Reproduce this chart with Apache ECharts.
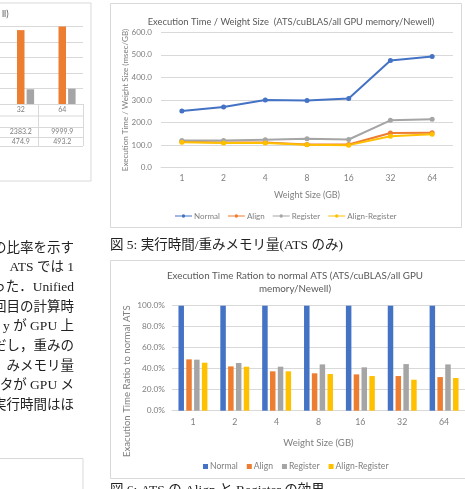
<!DOCTYPE html>
<html>
<head>
<meta charset="utf-8">
<script src="https://cdn.jsdelivr.net/npm/echarts@6/dist/echarts.min.js"></script>
<style>
html, body { margin: 0; padding: 0; background: #fff; }
#main { width: 465px; height: 489px; }
</style>
</head>
<body>
<div id="main"></div>
<script>
var dom = document.getElementById('main');
var myChart = echarts.init(dom);
var option;

// --- data ---
var weightSizes = ['1', '2', '4', '8', '16', '32', '64'];
var seriesNames = ['Normal', 'Align', 'Register', 'Align-Register'];
var seriesColors = ['#4472C4', '#ED7D31', '#A5A5A5', '#FFC000'];

// 図5: execution time / weight size (msec/GB)
var timeNormal = [251, 269, 300, 298, 307, 474.9, 493.2];
var timeAlign = [115, 112, 112, 103, 103, 154, 155];
var timeRegister = [121, 120, 124, 128, 125, 210, 215];
var timeAlignRegister = [113, 110, 110, 102, 100, 139, 148];

// 図6: ratio to normal ATS
var ratioNormal = [1, 1, 1, 1, 1, 1, 1];
var ratioAlign = [0.489, 0.422, 0.375, 0.356, 0.346, 0.33, 0.32];
var ratioRegister = [0.486, 0.454, 0.419, 0.441, 0.413, 0.444, 0.441];
var ratioAlignRegister = [0.457, 0.419, 0.375, 0.349, 0.33, 0.295, 0.311];

// previous figure, cut off at the left edge
var prevSizes = ['32', '64'];
var prevFirst = [null, null];
var prevSecond = [2383.2, 9999.9];
var prevThird = [474.9, 493.2];

var bodyLines = ['の比率を示す', 'ATS では 1', 'った．Unified', '回目の計算時',
    'y が GPU 上', 'だし，重みの', 'みメモリ量', 'タが GPU メ', '実行時間はほ'];
var caption5 = '図 5: 実行時間/重みメモリ量(ATS のみ)';
var caption6 = '図 6: ATS の Align と Register の効果';

var chartFont = 'Lato, "Open Sans", sans-serif';
var paperFont = '"Liberation Serif", "Noto Sans CJK JP", serif';
var labelColor = '#7f7f7f';
var gridColor = '#d9d9d9';

function lineSeries(name, data, color) {
    return {
        name: name, type: 'line', xAxisIndex: 0, yAxisIndex: 0,
        data: data, symbol: 'circle', symbolSize: 5,
        itemStyle: { color: color },
        lineStyle: { color: color, width: 2 }
    };
}

function barSeries(name, data, color) {
    return {
        name: name, type: 'bar', xAxisIndex: 1, yAxisIndex: 1,
        data: data, barWidth: 5.5, barGap: '42%',
        itemStyle: { color: color }
    };
}

var graphics = [
    { type: 'rect', shape: { x: -2, y: 3, width: 93, height: 178 }, style: { fill: null, stroke: gridColor, lineWidth: 1 } },
    { type: 'rect', shape: { x: 110.5, y: 3.5, width: 351, height: 224 }, style: { fill: null, stroke: gridColor, lineWidth: 1 } },
    { type: 'rect', shape: { x: 110.5, y: 260.5, width: 362, height: 218 }, style: { fill: null, stroke: gridColor, lineWidth: 1 } },
    { type: 'rect', shape: { x: -2, y: 458.5, width: 85, height: 40 }, style: { fill: null, stroke: gridColor, lineWidth: 1 } },
    { type: 'text', x: 110, y: 245, style: { text: caption5, font: '13.5px ' + paperFont, fill: '#222', textVerticalAlign: 'middle' } },
    { type: 'text', x: 110, y: 490, style: { text: caption6, font: '13.5px ' + paperFont, fill: '#222', textVerticalAlign: 'middle' } },
    { type: 'text', x: 2, y: 14, style: { text: 'll)', font: '9px ' + chartFont, fill: '#595959', textVerticalAlign: 'middle' } }
];
bodyLines.forEach(function (t, i) {
    graphics.push({
        type: 'text', x: 74, y: 248 + i * 19.7,
        style: { text: t, font: '13.5px ' + paperFont, fill: '#222', textAlign: 'right', textVerticalAlign: 'middle' }
    });
});

option = {
    animation: false,
    backgroundColor: '#fff',
    textStyle: { fontFamily: chartFont },
    title: [{
        text: 'Execution Time / Weight Size  (ATS/cuBLAS/all GPU memory/Newell)',
        left: 286, top: 12, textAlign: 'center',
        textStyle: { fontSize: 9.4, fontWeight: 'normal', color: '#595959', fontFamily: chartFont }
    }, {
        text: 'Execution Time Ration to normal ATS (ATS/cuBLAS/all GPU\nmemory/Newell)',
        left: 290, top: 265, textAlign: 'center',
        textStyle: { fontSize: 9.8, fontWeight: 'normal', color: '#595959', lineHeight: 12.5, fontFamily: chartFont }
    }],
    legend: [{
        data: seriesNames.map(function (n) { return { name: n, icon: 'path://M0,9 L40,9 L40,11 L0,11 Z M20,6 A4,4 0 1,1 19.99,6 Z' }; }),
        left: 170, top: 207,
        itemWidth: 17, itemHeight: 6, itemGap: 8,
        textStyle: { fontSize: 8, color: labelColor, fontFamily: chartFont, padding: [0, 0, 0, -3] }
    }, {
        data: seriesNames.map(function (n) { return { name: n, icon: 'rect' }; }),
        left: 198, top: 457,
        itemWidth: 5, itemHeight: 5, itemGap: 9,
        textStyle: { fontSize: 8.6, color: labelColor, fontFamily: chartFont, padding: [0, 0, 0, -3] }
    }],
    grid: [
        { left: 161, top: 32.3, width: 292, height: 135.4 },
        { left: 172, top: 305.7, width: 293, height: 105 },
        { left: -6, top: 26.5, width: 89, height: 77.5 }
    ],
    xAxis: [{
        gridIndex: 0, type: 'category', data: weightSizes,
        axisTick: { show: false },
        axisLine: { lineStyle: { color: gridColor } },
        axisLabel: { color: labelColor, fontSize: 8.5, margin: 6 },
        name: 'Weight Size (GB)', nameLocation: 'middle', nameGap: 23, nameMoveOverlap: false,
        nameTextStyle: { color: labelColor, fontSize: 9 }
    }, {
        gridIndex: 1, type: 'category', data: weightSizes,
        axisTick: { show: false },
        axisLine: { lineStyle: { color: gridColor } },
        axisLabel: { color: labelColor, fontSize: 8.8, margin: 7 },
        name: 'Weight Size (GB)', nameLocation: 'middle', nameGap: 27, nameMoveOverlap: false,
        nameTextStyle: { color: labelColor, fontSize: 9.6 }
    }, {
        gridIndex: 2, type: 'category', data: prevSizes,
        axisTick: { show: false }, axisLabel: { show: false },
        axisLine: { lineStyle: { color: gridColor } }
    }],
    yAxis: [{
        gridIndex: 0, type: 'value', min: 0, max: 600, interval: 100,
        axisLabel: { color: labelColor, fontSize: 8, margin: 9, formatter: function (v) { return v.toFixed(1); } },
        splitLine: { lineStyle: { color: gridColor } },
        name: 'Execution Time / Weight Size (msec/GB)', nameLocation: 'middle', nameGap: 32, nameMoveOverlap: false,
        nameTextStyle: { color: labelColor, fontSize: 8 }
    }, {
        gridIndex: 1, type: 'value', min: 0, max: 1, interval: 0.2,
        axisLabel: { color: labelColor, fontSize: 8.3, margin: 7, formatter: function (v) { return (v * 100).toFixed(1) + '%'; } },
        splitLine: { lineStyle: { color: gridColor } },
        name: 'Exacution Time Ratio to normal ATS', nameLocation: 'middle', nameGap: 40, nameMoveOverlap: false,
        nameTextStyle: { color: labelColor, fontSize: 9.6, padding: [0, 46, 0, 0] }
    }, {
        gridIndex: 2, type: 'value', min: 0, max: 2500, interval: 500,
        axisLabel: { show: false },
        splitLine: { lineStyle: { color: gridColor } }
    }],
    series: [
        lineSeries(seriesNames[0], timeNormal, seriesColors[0]),
        lineSeries(seriesNames[1], timeAlign, seriesColors[1]),
        lineSeries(seriesNames[2], timeRegister, seriesColors[2]),
        lineSeries(seriesNames[3], timeAlignRegister, seriesColors[3]),
        barSeries(seriesNames[0], ratioNormal, seriesColors[0]),
        barSeries(seriesNames[1], ratioAlign, seriesColors[1]),
        barSeries(seriesNames[2], ratioRegister, seriesColors[2]),
        barSeries(seriesNames[3], ratioAlignRegister, seriesColors[3]),
        { name: 'prev1', type: 'bar', xAxisIndex: 2, yAxisIndex: 2, data: prevFirst, barWidth: 7.5, barGap: '28%', itemStyle: { color: '#4472C4' } },
        { name: 'prev2', type: 'bar', xAxisIndex: 2, yAxisIndex: 2, data: prevSecond, barWidth: 7.5, barGap: '28%', itemStyle: { color: '#ED7D31' } },
        { name: 'prev3', type: 'bar', xAxisIndex: 2, yAxisIndex: 2, data: prevThird, barWidth: 7.5, barGap: '28%', itemStyle: { color: '#A5A5A5' } }
    ],
    graphic: graphics
};

myChart.setOption(option);

// data table under the cut-off chart
var tableRows = [prevSizes, prevFirst, prevSecond, prevThird];
var rowY = [104, 115.5, 127, 137, 146];
var tableEls = [];
rowY.forEach(function (y) {
    tableEls.push({ type: 'line', shape: { x1: -2, y1: y + 0.5, x2: 83, y2: y + 0.5 }, style: { stroke: gridColor, lineWidth: 1 } });
});
[38, 83].forEach(function (x) {
    tableEls.push({ type: 'line', shape: { x1: x + 0.5, y1: 104, x2: x + 0.5, y2: 146 }, style: { stroke: gridColor, lineWidth: 1 } });
});
tableRows.forEach(function (row, r) {
    row.forEach(function (v, c) {
        if (v == null) return;
        var cx = myChart.convertToPixel({ xAxisIndex: 2 }, prevSizes[c]);
        tableEls.push({
            type: 'text', x: cx, y: (rowY[r] + rowY[r + 1]) / 2,
            style: { text: String(v), font: '7px ' + chartFont, fill: labelColor, textAlign: 'center', textVerticalAlign: 'middle' }
        });
    });
});
myChart.setOption({ graphic: graphics.concat(tableEls) });
</script>
</body>
</html>
